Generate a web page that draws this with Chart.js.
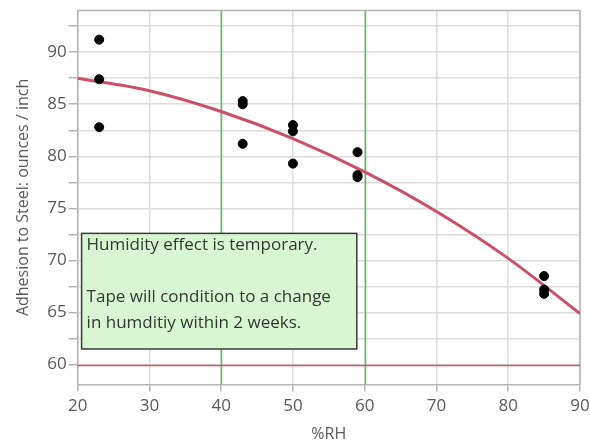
<!DOCTYPE html>
<html>
<head>
<meta charset="utf-8">
<script src="https://cdn.jsdelivr.net/npm/chart.js@4"></script>
<style>
  html, body { margin: 0; padding: 0; background: #fff; }
  #wrap { width: 590px; height: 444px; }
</style>
</head>
<body>
<div id="wrap"><canvas id="adhesion_chart"></canvas></div>
<script>
// measured points (%RH vs adhesion)
const rhValues = [23, 23, 23, 43, 43, 43, 50, 50, 50, 59, 59, 59, 85, 85, 85];
const adhesionValues = [91.2, 87.4, 82.8, 85.3, 85.0, 81.2, 83.0, 82.4, 79.3, 80.4, 78.2, 78.0, 68.5, 67.2, 66.8];

// fitted curve
const fitRh = [20, 30, 40, 50, 60, 70, 80, 90];
const fitAdhesion = [87.5, 86.3, 84.3, 81.7, 78.5, 74.7, 70.2, 64.9];

// reference lines
const rhLimits = [40, 60];
const adhesionSpec = 60;

// note box: corners in data units, and its text
const noteCorners = [[20.55, 72.6], [58.9, 61.5]];
const noteLines = ["Humidity effect is temporary.", "", "Tape will condition to a change", "in humditiy within 2 weeks."];

const FONT = "'Open Sans', 'Noto Sans', sans-serif";

var refLines = {
    id: 'refLines',
    beforeDatasetsDraw: function(chart) {
        var ctx = chart.ctx, a = chart.chartArea;
        var xs = chart.scales.x, ys = chart.scales.y;
        ctx.save();
        // frame around plot
        ctx.strokeStyle = '#b4b4b4';
        ctx.lineWidth = 1.5;
        ctx.beginPath();
        ctx.moveTo(a.left, a.top);
        ctx.lineTo(a.right, a.top);
        ctx.lineTo(a.right, a.bottom);
        ctx.stroke();
        // green limits
        ctx.strokeStyle = '#52c452';
        ctx.lineWidth = 1.5;
        rhLimits.forEach(function(v) {
            var px = Math.round(xs.getPixelForValue(v)) + 0.5;
            ctx.beginPath();
            ctx.moveTo(px, a.top);
            ctx.lineTo(px, a.bottom);
            ctx.stroke();
        });
        // red spec line
        var py = Math.round(ys.getPixelForValue(adhesionSpec)) + 0.5;
        ctx.strokeStyle = '#d4506a';
        ctx.beginPath();
        ctx.moveTo(a.left, py);
        ctx.lineTo(a.right, py);
        ctx.stroke();
        ctx.restore();
    }
};

var noteBox = {
    id: 'noteBox',
    afterDatasetsDraw: function(chart) {
        var ctx = chart.ctx;
        var xs = chart.scales.x, ys = chart.scales.y;
        var x0 = xs.getPixelForValue(noteCorners[0][0]);
        var y0 = ys.getPixelForValue(noteCorners[0][1]);
        var x1 = xs.getPixelForValue(noteCorners[1][0]);
        var y1 = ys.getPixelForValue(noteCorners[1][1]);
        ctx.save();
        ctx.fillStyle = '#d9f6d3';
        ctx.fillRect(x0, y0, x1 - x0, y1 - y0);
        ctx.strokeStyle = '#3a3a3a';
        ctx.lineWidth = 1.5;
        ctx.strokeRect(x0, y0, x1 - x0, y1 - y0);
        ctx.fillStyle = '#2f3b30';
        ctx.font = '17px ' + FONT;
        ctx.textBaseline = 'middle';
        noteLines.forEach(function(t, i) {
            ctx.fillText(t, x0 + 5, y0 + 12 + i * 26);
        });
        ctx.restore();
    }
};

var ctx = document.getElementById('adhesion_chart').getContext('2d');
var chart = new Chart(ctx, {
    type: 'scatter',
    data: {
        datasets: [
            {
                label: 'Adhesion',
                data: rhValues.map(function(v, i) { return { x: v, y: adhesionValues[i] }; }),
                backgroundColor: '#000',
                borderColor: '#000',
                pointRadius: 4.5,
                pointHoverRadius: 4.5
            },
            {
                label: 'Fit',
                type: 'line',
                data: fitRh.map(function(v, i) { return { x: v, y: fitAdhesion[i] }; }),
                borderColor: '#cc4f68',
                borderWidth: 3,
                pointRadius: 0,
                cubicInterpolationMode: 'monotone',
                fill: false
            }
        ]
    },
    options: {
        responsive: true,
        maintainAspectRatio: false,
        animation: false,
        layout: { padding: { left: 14, right: 2, top: 0, bottom: 0 } },
        plugins: {
            legend: { display: false },
            tooltip: { enabled: false }
        },
        scales: {
            x: {
                type: 'linear',
                min: 20,
                max: 90,
                afterFit: function(scale) { scale.paddingRight = 10; },
                ticks: {
                    stepSize: 10,
                    color: '#5a5a5a',
                    font: { family: FONT, size: 17 },
                    padding: 5
                },
                grid: {
                    color: '#dcdcdc',
                    lineWidth: 1.5,
                    tickLength: 7,
                    tickColor: '#b4b4b4'
                },
                border: { color: '#b4b4b4', width: 1.5 },
                title: {
                    display: true,
                    text: '%RH',
                    color: '#5a5a5a',
                    font: { family: FONT, size: 16 },
                    padding: { top: 3, bottom: 0 }
                }
            },
            y: {
                min: 58.1,
                max: 94,
                afterBuildTicks: function(scale) {
                    var t = [];
                    for (var v = 60; v <= 92.5; v += 2.5) t.push({ value: v });
                    scale.ticks = t;
                },
                ticks: {
                    color: '#5a5a5a',
                    font: { family: FONT, size: 17, lineHeight: 1 },
                    padding: 2,
                    callback: function(v) { return v % 5 === 0 ? v : ''; }
                },
                grid: {
                    color: '#dcdcdc',
                    lineWidth: 1.5,
                    tickLength: 9,
                    tickColor: '#b4b4b4'
                },
                border: { color: '#b4b4b4', width: 1.5 },
                title: {
                    display: true,
                    text: 'Adhesion to Steel: ounces / inch',
                    color: '#5a5a5a',
                    font: { family: FONT, size: 16 },
                    padding: { top: 0, bottom: 12 }
                }
            }
        }
    },
    plugins: [refLines, noteBox]
});
</script>
</body>
</html>
